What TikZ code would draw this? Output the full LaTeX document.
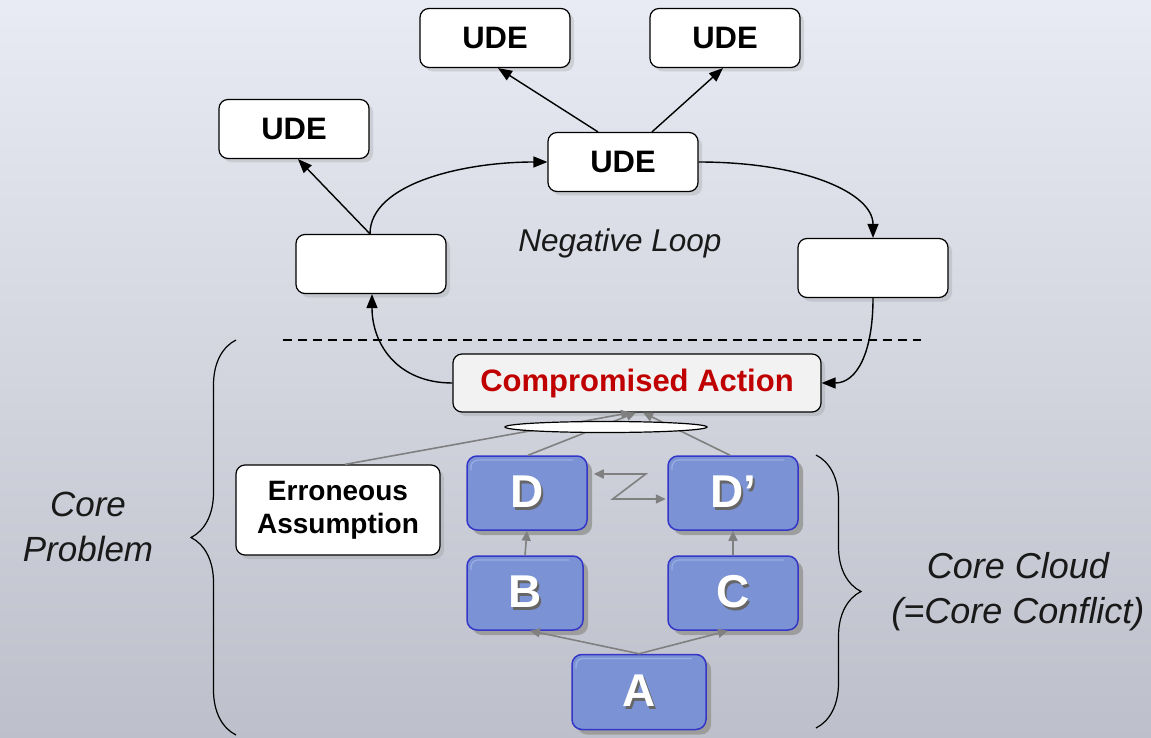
\documentclass[tikz,border=0pt]{standalone}
\usepackage{fontspec}
\setmainfont{Liberation Sans}
\usetikzlibrary{arrows.meta,shadows,decorations.pathreplacing,shapes.geometric}

\definecolor{bgtop}{HTML}{E8EBF3}
\definecolor{bgbot}{HTML}{BDC0CA}
\definecolor{cloudfill}{HTML}{7B93D5}
\definecolor{cloudedge}{HTML}{3535C8}
\definecolor{cloudhi}{HTML}{9AAEE3}
\definecolor{actred}{HTML}{C00000}
\definecolor{actfill}{HTML}{F2F2F2}
\definecolor{linkgrey}{HTML}{808080}

% white letter with a dark offset copy behind it
\newcommand{\shtext}[1]{\leavevmode\rlap{\kern2.5pt\raisebox{-2.5pt}{\textcolor{black!60}{#1}}}\textcolor{white}{#1}}

\tikzset{
  box/.style={draw=black, line width=1.2pt, rounded corners=9pt, fill=white,
    inner sep=0pt, minimum width=150pt, minimum height=59pt,
    font=\fontsize{31}{36}\selectfont\bfseries,
    drop shadow={shadow xshift=4pt, shadow yshift=-4pt, opacity=0.22}},
  cloudbox/.style={draw=cloudedge, line width=1.5pt, rounded corners=10pt, fill=cloudfill,
    inner sep=0pt, minimum height=74pt,
    font=\fontsize{46}{50}\selectfont\bfseries,
    drop shadow={shadow xshift=5pt, shadow yshift=-5pt, fill=black!40, opacity=0.9},
    path picture={\draw[cloudhi, line width=1.2pt, rounded corners=7pt]
      ([shift={(4pt,-14pt)}]path picture bounding box.north west) --
      ([shift={(4pt,-4pt)}]path picture bounding box.north west) --
      ([shift={(-14pt,-4pt)}]path picture bounding box.north east);}},
  blk/.style={draw=black, line width=1.4pt, -{Triangle[length=14pt,width=11pt]}},
  gry/.style={draw=linkgrey, line width=1.6pt, -{Triangle[length=10pt,width=9pt]}},
  bracestyle/.style={draw=black, line width=1.2pt,
    decorate, decoration={brace, amplitude=45pt, aspect=0.5}},
  note/.style={font=\fontsize{35}{45}\selectfont\itshape, align=center, text=black!90}
}

\begin{document}
\begin{tikzpicture}[x=1pt,y=-1pt]
  % backdrop
  \useasboundingbox (0,0) rectangle (1151,738);
  \shade[top color=bgtop, bottom color=bgbot] (0,0) rectangle (1151,738);

  % undesirable effects and loop boxes
  \node[box] (u1) at (495,38)  {UDE};
  \node[box] (u2) at (725,38)  {UDE};
  \node[box] (u3) at (294,129) {UDE};
  \node[box] (u4) at (623,162) {UDE};
  \node[box] (b1) at (371,264) {};
  \node[box] (b2) at (873,268) {};

  \node[font=\fontsize{31.5}{36}\selectfont\itshape, text=black!90] (nl) at (620,243) {Negative Loop};

  % separator
  \coordinate (dl) at (283,340);
  \coordinate (dr) at (921,340);
  \draw[line width=1.2pt, dash pattern=on 9pt off 6pt] (dl) -- (dr);

  % compromised action and assumption
  \node[box, fill=actfill, text=actred, minimum width=368pt, minimum height=58pt] (ca) at (637,383) {Compromised Action};
  \node[box, minimum width=204pt, minimum height=90pt, align=center,
        font=\fontsize{28}{33}\selectfont\bfseries] (ea) at (338,510) {Erroneous\\Assumption};

  % core cloud
  \node[cloudbox, minimum width=120pt] (d)  at (527,493) {\shtext{D}};
  \node[cloudbox, minimum width=130pt] (dp) at (733,493) {\shtext{D’}};
  \node[cloudbox, minimum width=116pt] (bb) at (525,593) {\shtext{B}};
  \node[cloudbox, minimum width=130pt] (cc) at (733,593) {\shtext{C}};
  \node[cloudbox, minimum width=134pt, minimum height=75pt] (aa) at (639,692) {\shtext{A}};

  % loop connectors
  \draw[blk] ([xshift=-25pt]u4.north) -- ([xshift=3pt]u1.south);
  \draw[blk] ([xshift=29pt]u4.north) -- ([xshift=-2pt]u2.south);
  \draw[blk] ([xshift=-1pt]b1.north) -- ([xshift=4pt]u3.south);
  \draw[blk] ([xshift=-1pt]b1.north) .. controls +(0,-50) and +(-85,0) .. (u4.west);
  \draw[blk] (u4.east) .. controls +(105,0) and +(0,-45) .. (b2.north);
  \draw[blk] (b2.south) .. controls +(0,55) and +(35,0) .. (ca.east);
  \draw[blk] (ca.west) .. controls +(-55,0) and +(0,50) .. ([xshift=1pt]b1.south);

  % links into the compromised action
  \draw[gry] ([xshift=7pt]ea.north) -- ([xshift=-6pt]ca.south);
  \draw[gry] ([xshift=1pt]d.north) -- ([xshift=-1pt]ca.south);
  \draw[gry] ([xshift=-3pt]dp.north) -- ([xshift=6pt]ca.south);
  \node[draw=black, fill=white, ellipse, line width=1.2pt, inner sep=0pt,
        minimum width=202pt, minimum height=11pt] (el) at (606,427) {};

  % links inside the cloud
  \draw[gry] (bb.north) -- (d.south);
  \draw[gry] (cc.north) -- (dp.south);
  \draw[gry] (aa.north) -- ([xshift=5pt]bb.south);
  \draw[gry] (aa.north) -- ([xshift=-5pt]cc.south);
  \draw[draw=linkgrey, line width=1.6pt, {Triangle[length=10pt,width=9pt]}-{Triangle[length=10pt,width=9pt]}]
    ([shift={(6,-19)}]d.east) -- ++(52,0) -- ++(-33,25) -- ++(53,0);

  % braces and their captions
  \coordinate (lbB) at (236,735);
  \coordinate (lbT) at (236,340);
  \draw[bracestyle] (lbB) -- (lbT);
  \coordinate (rbT) at (816,455);
  \coordinate (rbB) at (816,728);
  \draw[bracestyle] (rbT) -- (rbB);

  \node[note] (cp) at (88,527) {Core\\Problem};
  \node[note, font=\fontsize{36}{45}\selectfont\itshape] (cl) at (1018,592) {Core Cloud\\(=Core Conflict)};
\end{tikzpicture}
\end{document}
